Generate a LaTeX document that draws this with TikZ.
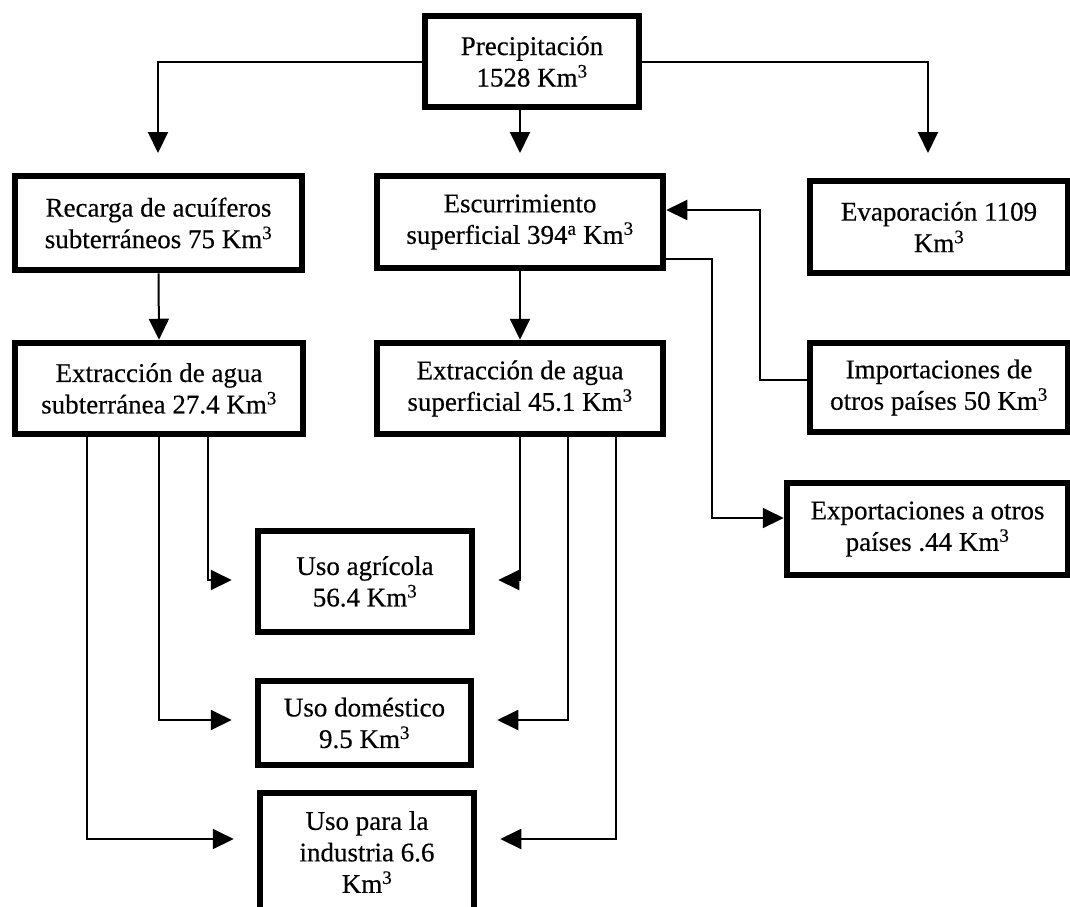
\documentclass[tikz,border=0pt]{standalone}
\usepackage{fontspec}
\setmainfont{Liberation Serif}[FakeBold=0.4]
\usetikzlibrary{arrows.meta,calc}
\begin{document}
\begin{tikzpicture}[x=1pt,y=-1pt,
  box/.style={draw,line width=6.5pt,align=center,inner sep=0pt,
    font=\fontsize{27}{31.5}\selectfont},
  conn/.style={line width=2pt,-{Triangle[length=21pt,width=20pt]}}]
\useasboundingbox (0,0) rectangle (1070,906);
\clip (0,0) rectangle (1070,906);
% nodes
\node[box,minimum width=214pt,minimum height=91pt] (P) at (532,61.5) {Precipitación\\1528 Km\textsuperscript{3}};
\node[box,minimum width=287pt,minimum height=94pt] (Rec) at (158.5,223) {Recarga de acuíferos\\subterráneos 75 Km\textsuperscript{3}};
\node[box,minimum width=286pt,minimum height=92pt] (Esc) at (520,222) {Escurrimiento\\superficial 394\textsuperscript{a} Km\textsuperscript{3}};
\node[box,minimum width=258pt,minimum height=92pt] (Eva) at (939,227) {Evaporación 1109\\Km\textsuperscript{3}};
\node[box,minimum width=288pt,minimum height=91pt] (ES) at (159,388.5) {Extracción de agua\\subterránea 27.4 Km\textsuperscript{3}};
\node[box,minimum width=286pt,minimum height=91pt] (EP) at (520,388.5) {Extracción de agua\\superficial 45.1 Km\textsuperscript{3}};
\node[box,minimum width=258pt,minimum height=89pt] (Imp) at (939,387.5) {Importaciones de\\otros países 50 Km\textsuperscript{3}};
\node[box,minimum width=281pt,minimum height=92pt] (Exp) at (927.5,529) {Exportaciones a otros\\países .44 Km\textsuperscript{3}};
\node[box,minimum width=214pt,minimum height=101pt] (Agr) at (365,581.5) {Uso agrícola\\56.4 Km\textsuperscript{3}};
\node[box,minimum width=213pt,minimum height=84pt] (Dom) at (364.5,723) {Uso doméstico\\9.5 Km\textsuperscript{3}};
\node[box,minimum width=214pt,minimum height=118pt] (Ind) at (367,852) {Uso para la\\industria 6.6\\Km\textsuperscript{3}};
% coordinates
\coordinate (la) at (158,153);
\coordinate (ma) at (520,153);
\coordinate (ra) at (928,153);
\coordinate (impk) at (760,380);
\coordinate (escin) at (666,210);
\coordinate (expt) at (712,259);
\coordinate (expk) at (712,518);
\coordinate (s1) at (87,839);
\coordinate (s2) at (159,720);
\coordinate (s3) at (208,580);
\coordinate (e1) at (520,580);
\coordinate (e2) at (568,720);
\coordinate (e3) at (616,839);
% connectors
\draw[conn] (P.west) -| (la);
\draw[conn] (P.east) -| (ra);
\draw[conn] (P.south -| ma) -- (ma);
\draw[conn] (Rec.south) -- (ES.north);
\draw[conn] (Esc.south) -- (EP.north);
\draw[conn] (Imp.west |- impk) -- (impk) |- (Esc.east |- escin);
\draw[conn] (Esc.east |- expt) -- (expt) -- (expk) -- (Exp.west |- expk);
\draw[conn] (ES.south -| s3) -- (s3) -- ($(s3 -| Agr.west)+(-23,0)$);
\draw[conn] (ES.south -| s2) -- (s2) -- ($(s2 -| Dom.west)+(-23,0)$);
\draw[conn] (ES.south -| s1) -- (s1) -- ($(s1 -| Ind.west)+(-23,0)$);
\draw[conn] (EP.south -| e1) -- (e1) -- ($(e1 -| Agr.east)+(23,0)$);
\draw[conn] (EP.south -| e2) -- (e2) -- ($(e2 -| Dom.east)+(23,0)$);
\draw[conn] (EP.south -| e3) -- (e3) -- ($(e3 -| Ind.east)+(23,0)$);
\end{tikzpicture}
\end{document}
